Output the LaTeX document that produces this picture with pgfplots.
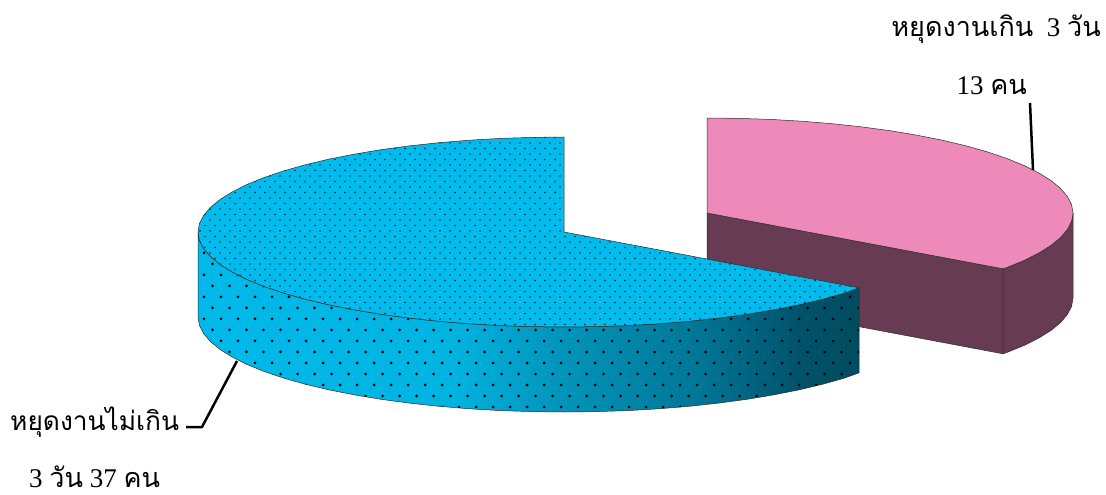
\documentclass[border=0pt]{standalone}
\usepackage{fontspec}
\usepackage{pgfplots}
\usepackage{pgfplotstable}
\pgfplotsset{compat=1.18}
\usetikzlibrary{patterns}
\setmainfont{Liberation Serif}
\newfontfamily\thaifont[Script=Thai]{Loma}
\definecolor{bluetop}{HTML}{00BBEE}
\definecolor{pinktop}{HTML}{EE8ABA}
\definecolor{pinkwall}{HTML}{673C53}
\definecolor{edgec}{HTML}{2A2A2A}
\definecolor{wa}{RGB}{0,185,234}
\definecolor{wb}{RGB}{0,180,226}
\definecolor{wc}{RGB}{0,150,188}
\definecolor{wd}{RGB}{0,118,150}
\definecolor{we}{RGB}{0,82,106}
\definecolor{wf}{RGB}{0,76,96}
\pgfdeclarehorizontalshading{bluewall}{100bp}{
 color(0bp)=(wa);
 color(25bp)=(wa);
 color(44bp)=(wb);
 color(52bp)=(wc);
 color(63bp)=(wd);
 color(70.5bp)=(we);
 color(75bp)=(wf);
 color(100bp)=(wf)}
\pgfdeclarepatternformonly{topdots}{\pgfqpoint{-1pt}{-1pt}}{\pgfqpoint{11pt}{12pt}}{\pgfqpoint{10pt}{11pt}}{
 \pgfpathcircle{\pgfqpoint{0pt}{0pt}}{0.8pt}
 \pgfpathcircle{\pgfqpoint{5pt}{5.5pt}}{0.8pt}
 \pgfusepath{fill}}
\pgfdeclarepatternformonly{sidedots}{\pgfqpoint{-2pt}{-2pt}}{\pgfqpoint{19pt}{24pt}}{\pgfqpoint{17pt}{22pt}}{
 \pgfpathcircle{\pgfqpoint{0pt}{0pt}}{1.5pt}
 \pgfpathcircle{\pgfqpoint{8.5pt}{11pt}}{1.5pt}
 \pgfusepath{fill}}
\pgfplotstableread{
x y
564 232
859 287.8
844.4 293.1
822.8 299.2
799.3 304.8
773.9 309.8
747 314.3
718.7 318.1
689.2 321.3
658.7 323.8
627.5 325.6
595.9 326.6
564 327
532.1 326.6
500.5 325.6
469.3 323.8
438.8 321.3
409.3 318.1
381 314.3
354.1 309.8
328.7 304.8
305.2 299.2
283.6 293.1
264.2 286.5
247 279.5
232.3 272.1
220.1 264.5
210.5 256.6
203.6 248.5
199.4 240.3
198 232
199.4 223.7
203.6 215.5
210.5 207.4
220.1 199.5
232.3 191.9
247 184.5
264.2 177.5
283.6 170.9
305.2 164.8
328.7 159.2
354.1 154.2
381 149.7
409.3 145.9
438.8 142.7
469.3 140.2
500.5 138.4
532.1 137.4
564 137
}\bluetoptab
\pgfplotstableread{
x y
859 287.8
844.4 293.1
822.8 299.2
799.3 304.8
773.9 309.8
747 314.3
718.7 318.1
689.2 321.3
658.7 323.8
627.5 325.6
595.9 326.6
564 327
532.1 326.6
500.5 325.6
469.3 323.8
438.8 321.3
409.3 318.1
381 314.3
354.1 309.8
328.7 304.8
305.2 299.2
283.6 293.1
264.2 286.5
247 279.5
232.3 272.1
220.1 264.5
210.5 256.6
203.6 248.5
199.4 240.3
198 232
198 317
199.4 325.3
203.6 333.5
210.5 341.6
220.1 349.5
232.3 357.1
247 364.5
264.2 371.5
283.6 378.1
305.2 384.2
328.7 389.8
354.1 394.8
381 399.3
409.3 403.1
438.8 406.3
469.3 408.8
500.5 410.6
532.1 411.6
564 412
595.9 411.6
627.5 410.6
658.7 408.8
689.2 406.3
718.7 403.1
747 399.3
773.9 394.8
799.3 389.8
822.8 384.2
844.4 378.1
859 372.8
}\bluewalltab
\pgfplotstableread{
x y
707 213
707 118
738.9 118.4
770.5 119.4
801.7 121.2
832.2 123.7
861.7 126.9
890 130.7
916.9 135.2
942.3 140.2
965.8 145.8
987.4 151.9
1006.8 158.5
1024 165.5
1038.7 172.9
1050.9 180.5
1060.5 188.4
1067.4 196.5
1071.6 204.7
1073 213
1071.6 221.3
1067.4 229.5
1060.5 237.6
1050.9 245.5
1038.7 253.1
1024 260.5
1006.8 267.5
1003 268.8
}\pinktoptab
\pgfplotstableread{
x y
1003 268.8
1006.8 267.5
1024 260.5
1038.7 253.1
1050.9 245.5
1060.5 237.6
1067.4 229.5
1071.6 221.3
1073 213
1073 298
1071.6 306.3
1067.4 314.5
1060.5 322.6
1050.9 330.5
1038.7 338.1
1024 345.5
1006.8 352.5
1003 353.8
}\pinkwalltab
\pgfplotstableread{
x y
707 213
1003 268.8
1003 353.8
707 298
}\pinkinnertab
\pgfplotstableread{
x y
1030 103
1033 170
}\leaderA
\pgfplotstableread{
x y
186 427
202 427
237 361
}\leaderB
\begin{document}
\begin{tikzpicture}
\begin{axis}[
  at={(0,0)},anchor=south west,
  scale only axis,width=1106pt,height=495pt,
  xmin=0,xmax=1106,ymin=0,ymax=495,y dir=reverse,
  hide axis,clip=false,
  every axis plot/.append style={mark=none,line join=round}]
\addplot[fill=pinkwall,draw=edgec,line width=.5pt] table {\pinkinnertab} -- cycle;
\addplot[fill=pinkwall,draw=edgec,line width=.5pt] table {\pinkwalltab} -- cycle;
\addplot[fill=pinktop,draw=edgec,line width=.5pt] table {\pinktoptab} -- cycle;
\addplot[shading=bluewall,draw=none] table {\bluewalltab} -- cycle;
\addplot[pattern=sidedots,pattern color=black,draw=edgec,line width=.5pt] table {\bluewalltab} -- cycle;
\addplot[fill=bluetop,draw=none] table {\bluetoptab} -- cycle;
\addplot[pattern=topdots,pattern color=black!85,draw=edgec,line width=.5pt] table {\bluetoptab} -- cycle;
\addplot[black,line width=2.5pt] table {\leaderA};
\addplot[black,line width=2.5pt] table {\leaderB};
\node[anchor=east,inner sep=0pt,font=\fontsize{27}{30}\selectfont] at (axis cs:1101,29) {{\thaifont หยุดงานเกิน}\ \ 3 {\thaifont วัน}};
\node[anchor=east,inner sep=0pt,font=\fontsize{27}{30}\selectfont] at (axis cs:1027,86) {13 {\thaifont คน}};
\node[anchor=west,inner sep=0pt,font=\fontsize{26.3}{30}\selectfont] at (axis cs:10,422) {{\thaifont หยุดงานไม่เกิน}};
\node[anchor=west,inner sep=0pt,font=\fontsize{27}{30}\selectfont] at (axis cs:29,477) {3 {\thaifont วัน} 37 {\thaifont คน}};
\end{axis}
\path[use as bounding box] (0,0) rectangle (1106pt,495pt);
\end{tikzpicture}
\end{document}
